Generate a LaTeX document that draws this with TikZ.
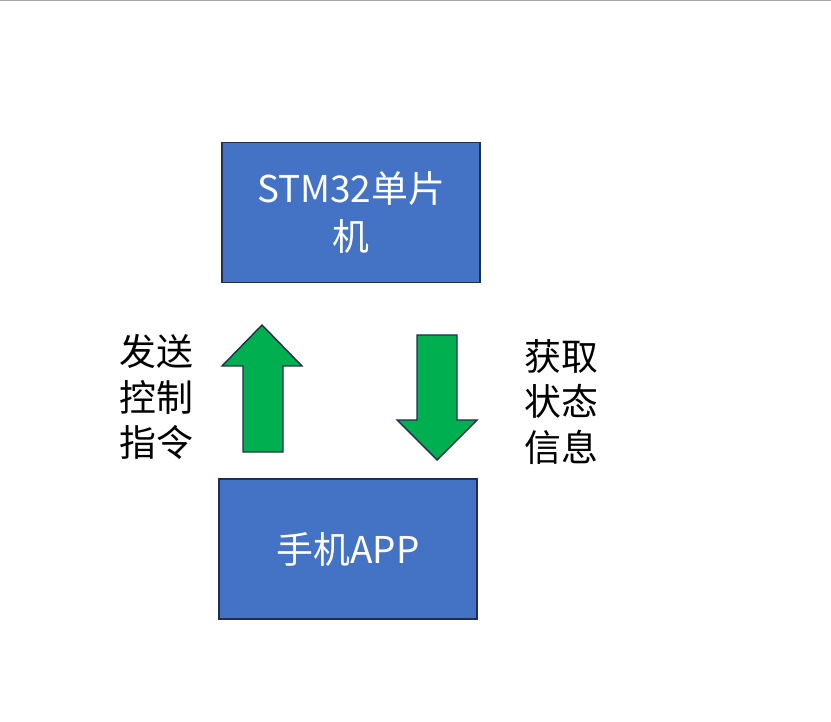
\documentclass[tikz,border=0pt]{standalone}
\usepackage{fontspec}
\setmainfont{Noto Sans CJK SC}
\usetikzlibrary{positioning}
\definecolor{boxblue}{HTML}{4472C4}
\definecolor{edgeblue}{HTML}{1F2F4F}
\definecolor{arrowgreen}{HTML}{00B050}
\tikzset{
  unitbox/.style={draw=edgeblue, fill=boxblue, thick, text=white, font=\fontsize{21}{27}\selectfont,
    align=center, minimum width=258*0.02cm, minimum height=140*0.02cm, inner sep=0pt},
  bigarrow/.style={draw=edgeblue, fill=arrowgreen, thick},
  sidelabel/.style={font=\fontsize{21}{26}\selectfont, align=center}
}
\begin{document}
\begin{tikzpicture}[x=0.02cm, y=-0.02cm]

% Canvas
\useasboundingbox (0,0) rectangle (831,722);
\draw[gray!70] (0,0.5) -- (831,0.5);

% Boxes
\node[unitbox] (mcu) at (351,212.5) {STM32单片\\机};
\node[unitbox] (app) at (348,549) {手机APP};

% Up arrow: control commands
\draw[bigarrow] (243,452) -- (243,366) -- (222,366) -- (262,325) -- (302,366) -- (283,366) -- (283,452) -- cycle;
% Down arrow: status information
\draw[bigarrow] (417,335) -- (417,420) -- (397,420) -- (437,460) -- (477,420) -- (457,420) -- (457,335) -- cycle;

% Labels
\node[sidelabel] (send) at (156,397) {发送\\控制\\指令};
\node[sidelabel] (get) at (561,402) {获取\\状态\\信息};

\end{tikzpicture}
\end{document}
